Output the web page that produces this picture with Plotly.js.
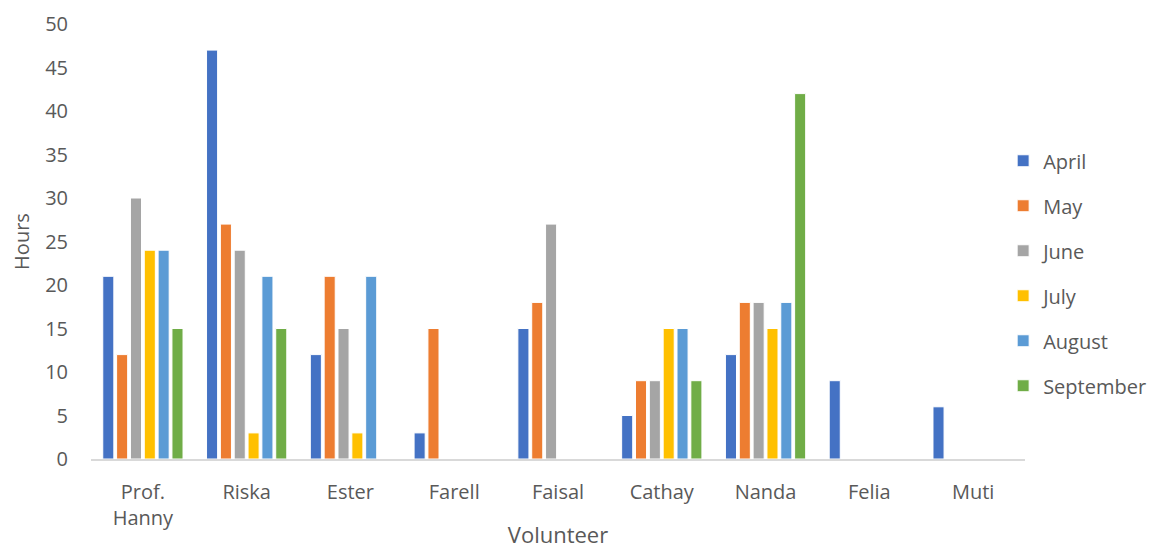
<!DOCTYPE html>
<html>
<head>
<meta charset="utf-8">
<script src="https://cdn.plot.ly/plotly-3.0.1.min.js"></script>
<style>html,body{margin:0;padding:0;background:#fff;}#chart{width:1163px;height:549px;}</style>
</head>
<body>
<div id="chart"></div>
<script>
const volunteers = ["Prof.<br>Hanny", "Riska", "Ester", "Farell", "Faisal", "Cathay", "Nanda", "Felia", "Muti"];
const months = ["April", "May", "June", "July", "August", "September"];
const april     = [21, 47, 12, 3, 15, 5, 12, 9, 6];
const may       = [12, 27, 21, 15, 18, 9, 18, 0, 0];
const june      = [30, 24, 15, 0, 27, 9, 18, 0, 0];
const july      = [24, 3, 3, 0, 0, 15, 15, 0, 0];
const august    = [24, 21, 21, 0, 0, 15, 18, 0, 0];
const september = [15, 15, 0, 0, 0, 9, 42, 0, 0];
const yTicks = [0, 5, 10, 15, 20, 25, 30, 35, 40, 45, 50];

const series = [april, may, june, july, august, september];
const colors = ["#4472C4", "#ED7D31", "#A5A5A5", "#FFC000", "#5B9BD5", "#70AD47"];

const traces = series.map((vals, i) => ({
  type: "bar",
  name: months[i],
  x: volunteers,
  y: vals,
  legendgroup: "g" + i,
  marker: { color: colors[i], line: { color: "#FFFFFF", width: 1 } },
  hoverinfo: "x+y+name"
}));

const font = "'Open Sans', Lato, sans-serif";
const layout = {
  width: 1163,
  height: 549,
  margin: { l: 91, r: 132, t: 24, b: 90 },
  paper_bgcolor: "#FFFFFF",
  plot_bgcolor: "#FFFFFF",
  barmode: "group",
  bargap: 0.2,
  bargroupgap: 0.2,
  font: { family: font, color: "#595959", size: 20 },
  xaxis: {
    type: "category",
    showgrid: false,
    zeroline: false,
    showline: true,
    linecolor: "#D9D9D9",
    linewidth: 1.5,
    ticks: "",
    ticklabelstandoff: 14,
    tickfont: { size: 20, color: "#595959" },
    title: { text: "Volunteer", font: { size: 22, color: "#595959" }, standoff: 5 }
  },
  yaxis: {
    range: [0, 50],
    tickvals: yTicks,
    ticktext: yTicks.map(String),
    showgrid: false,
    zeroline: false,
    showline: false,
    ticks: "",
    ticklabelstandoff: 22,
    tickfont: { size: 20, color: "#595959" },
    title: { text: "Hours", font: { size: 20, color: "#595959" }, standoff: 10 }
  },
  legend: {
    x: 0.9766, xanchor: "left", xref: "paper",
    y: 0.427, yanchor: "middle",
    font: { size: 20, color: "#595959" },
    tracegroupgap: 16,
    traceorder: "grouped",
    bgcolor: "rgba(0,0,0,0)"
  },
  showlegend: true
};

Plotly.newPlot("chart", traces, layout, { displayModeBar: false, staticPlot: true });
</script>
</body>
</html>
